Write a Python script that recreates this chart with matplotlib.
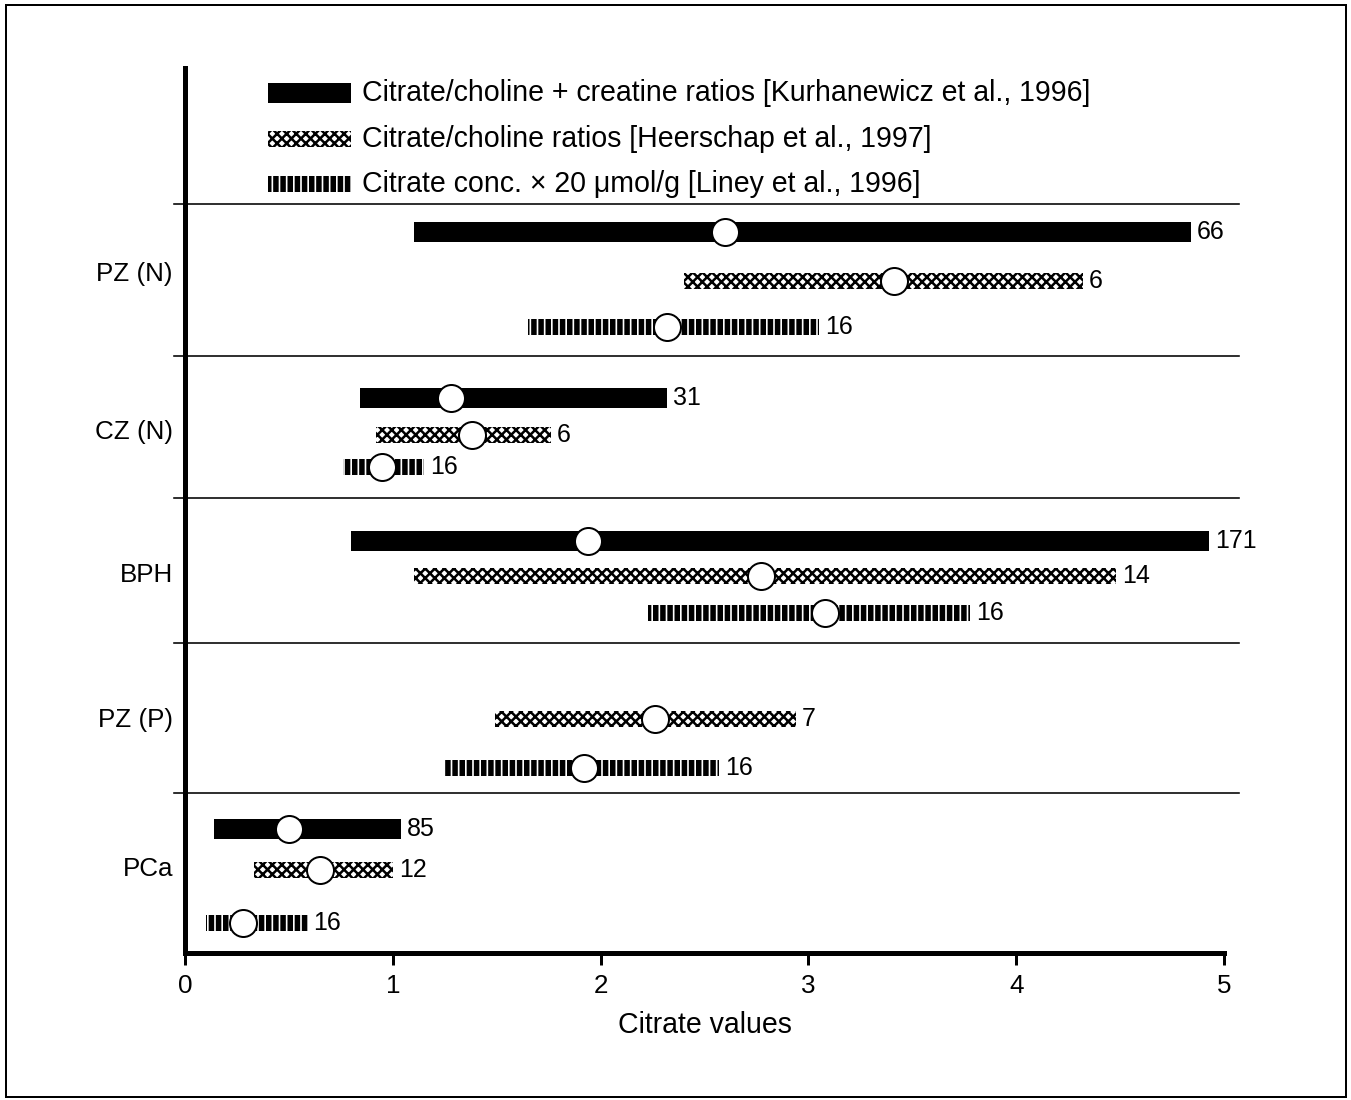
import matplotlib
matplotlib.use("Agg")
import matplotlib.pyplot as plt
from matplotlib.patches import Rectangle

plt.rcParams['font.family'] = ['Liberation Sans', 'DejaVu Sans']

DPI = 86
W, H = 1351, 1100
PX = 72.0 / DPI  # points per pixel

# ---------------- data ----------------
groups = ['PZ (N)', 'CZ (N)', 'BPH', 'PZ (P)', 'PCa']

series_labels = ['Citrate/choline + creatine ratios [Kurhanewicz et al., 1996]',
                 'Citrate/choline ratios [Heerschap et al., 1997]',
                 'Citrate conc. \u00d7 20 \u03bcmol/g [Liney et al., 1996]']

kur_groups = ['PZ (N)', 'CZ (N)', 'BPH', 'PCa']
kur_low = [1.10, 0.84, 0.80, 0.14]
kur_high = [4.84, 2.32, 4.93, 1.04]
kur_mean = [2.60, 1.28, 1.94, 0.50]
kur_n = [66, 31, 171, 85]

hee_groups = ['PZ (N)', 'CZ (N)', 'BPH', 'PZ (P)', 'PCa']
hee_low = [2.40, 0.92, 1.10, 1.49, 0.33]
hee_high = [4.32, 1.76, 4.48, 2.94, 1.00]
hee_mean = [3.41, 1.38, 2.77, 2.26, 0.65]
hee_n = [6, 6, 14, 7, 12]

lin_groups = ['PZ (N)', 'CZ (N)', 'BPH', 'PZ (P)', 'PCa']
lin_low = [1.65, 0.76, 2.23, 1.25, 0.10]
lin_high = [3.05, 1.15, 3.78, 2.57, 0.59]
lin_mean = [2.32, 0.95, 3.08, 1.92, 0.28]
lin_n = [16, 16, 16, 16, 16]

xticks = [0, 1, 2, 3, 4, 5]
xlabel = 'Citrate values'

# ---------------- layout (vertical positions, pixel-like units) ----------------
row_y = {
    0: {'PZ (N)': 232, 'CZ (N)': 398, 'BPH': 541, 'PCa': 829},
    1: {'PZ (N)': 281, 'CZ (N)': 435, 'BPH': 576, 'PZ (P)': 719, 'PCa': 870},
    2: {'PZ (N)': 327, 'CZ (N)': 467, 'BPH': 613, 'PZ (P)': 768, 'PCa': 923},
}
group_label_y = [272, 430, 573, 718, 866]
separators_y = [204, 356, 498, 643, 793]
legend_y = [93, 139, 184]
Y_TOP, Y_BOT = 68, 953

styles = [
    dict(height=20, facecolor='black', hatch=None, hlw=1.0),
    dict(height=16, facecolor='white', hatch='xxx', hlw=2.1),
    dict(height=16, facecolor='white', hatch='||', hlw=4.6),
]

series = [
    (kur_groups, kur_low, kur_high, kur_mean, kur_n),
    (hee_groups, hee_low, hee_high, hee_mean, hee_n),
    (lin_groups, lin_low, lin_high, lin_mean, lin_n),
]

FS_LEG = 28.5 * PX
FS_XL = 28.5 * PX
FS_TICK = 26 * PX
FS_CAT = 26 * PX
FS_N = 25 * PX

fig = plt.figure(figsize=(W / DPI, H / DPI), dpi=DPI)
ax_left, ax_right = 185, 1224
ax = fig.add_axes([ax_left / W, 1 - Y_BOT / H, (ax_right - ax_left) / W, (Y_BOT - Y_TOP) / H])
ax.set_xlim(0, 5)
ax.set_ylim(Y_BOT, Y_TOP)


def draw_bar(y, lo, hi, st):
    with plt.rc_context({'hatch.linewidth': st['hlw'], 'hatch.color': 'black'}):
        bars = ax.barh([y], [hi - lo], left=[lo], height=st['height'],
                       color=st['facecolor'], edgecolor='black', linewidth=0,
                       hatch=st['hatch'], zorder=2)
    for p in bars:
        if hasattr(p, 'set_hatch_linewidth'):
            p.set_hatch_linewidth(st['hlw'])
    return bars


for si, (grp, lo, hi, mn, nn) in enumerate(series):
    st = styles[si]
    ys = [row_y[si][g] for g in grp]
    for y, l, h in zip(ys, lo, hi):
        draw_bar(y, l, h, st)
    ax.scatter(mn, ys, s=(27 * PX) ** 2, facecolor='white', edgecolor='black',
               linewidth=2.0 * PX, zorder=4)
    for y, h, n in zip(ys, hi, nn):
        ax.annotate(str(n), (h, y), xytext=(6 * PX, 0), textcoords='offset points',
                    ha='left', va='center', fontsize=FS_N)

# legend (drawn inside the axes, top area)
leg_x0, leg_x1, leg_tx = 0.40, 0.80, 0.85
for si in range(3):
    draw_bar(legend_y[si], leg_x0, leg_x1, styles[si])
    ax.text(leg_tx, legend_y[si], series_labels[si], ha='left', va='center',
            fontsize=FS_LEG)

# separators
for sy in separators_y:
    ax.plot([-0.053, 5.072], [sy, sy], color='black', lw=1.6 * PX, clip_on=False, zorder=1)

# spines
for s in ['top', 'right']:
    ax.spines[s].set_visible(False)
for s in ['left', 'bottom']:
    ax.spines[s].set_linewidth(5 * PX)

ax.set_xticks(xticks)
ax.set_xticklabels([str(t) for t in xticks], fontsize=FS_TICK)
ax.tick_params(axis='x', direction='out', length=12 * PX, width=3 * PX, pad=9 * PX)
ax.set_yticks(group_label_y)
ax.set_yticklabels(groups, fontsize=FS_CAT)
ax.tick_params(axis='y', length=0, pad=12 * PX)
ax.set_xlabel(xlabel, fontsize=FS_XL, labelpad=13 * PX)

# outer frame
fig.add_artist(Rectangle((6 / W, 1 - 1097 / H), (1346 - 6) / W, (1097 - 5) / H,
                         transform=fig.transFigure, fill=False, edgecolor='black',
                         linewidth=2 * PX))

fig.savefig('out.png', dpi=DPI)
